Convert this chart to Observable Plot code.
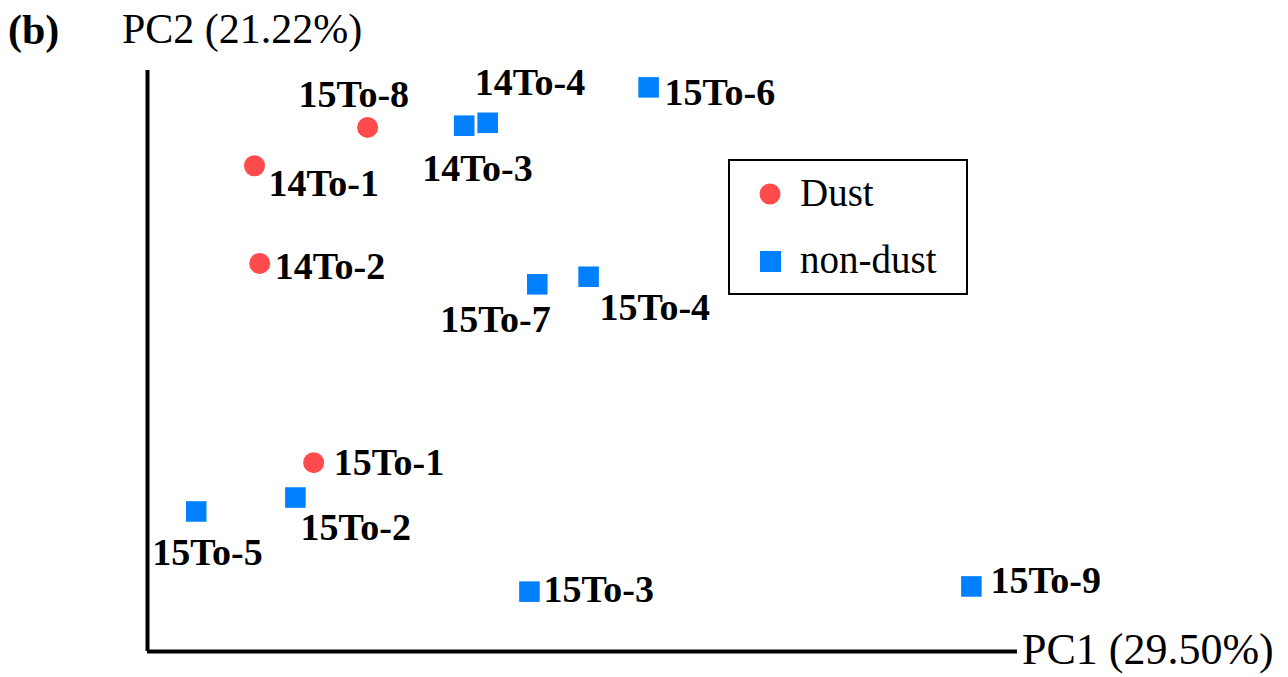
<!DOCTYPE html>
<html>
<head>
<meta charset="utf-8">
<script src="https://cdn.jsdelivr.net/npm/d3@7"></script>
<script src="https://cdn.jsdelivr.net/npm/@observablehq/plot@0.6"></script>
<style>
  body { margin: 0; background: #fff; }
  #wrap { position: relative; width: 1288px; height: 677px; overflow: hidden; font-family: "Liberation Serif", "Times New Roman", serif; }
  #wrap svg.plot { position: absolute; left: 0; top: 0; }
  .lbl { position: absolute; white-space: nowrap; color: #000; line-height: 1; }
  #legend { position: absolute; left: 728px; top: 159px; width: 236px; height: 132px; border: 2.5px solid #000; background: #fff; }
  #legend .row { position: absolute; left: 0; display: flex; align-items: center; font-size: 39px; }
</style>
</head>
<body>
<div id="wrap">
  <div class="lbl" style="left:8px; top:9px; font-size:42px; font-weight:bold;">(b)</div>
  <div class="lbl" style="left:122px; top:8px; font-size:42px;">PC2 (21.22%)</div>
  <div class="lbl" style="left:1022px; top:628px; font-size:44px;">PC1 (29.50%)</div>
  <div id="legend"></div>
</div>
<script>
// Sample names, group, and PCA scores (arbitrary units)
const samples = ["15To-8","14To-1","14To-2","15To-1","14To-3","14To-4","15To-6","15To-7","15To-4","15To-2","15To-5","15To-3","15To-9"];
const groups  = ["Dust","Dust","Dust","Dust","non-dust","non-dust","non-dust","non-dust","non-dust","non-dust","non-dust","non-dust","non-dust"];
const pc1 = [25.3, 12.3, 12.9, 19.1, 36.4, 39.1, 57.6, 44.8, 50.7, 17.0, 5.6, 43.9, 94.7];
const pc2 = [90.2, 83.6, 66.8, 32.5, 90.5, 91.0, 97.1, 63.2, 64.5, 26.5, 24.1, 10.3, 11.2];
const legendLabels = ["Dust", "non-dust"];

// label placement (styling, not data): offset of label's left edge from point
const labelOffset = {
  "15To-8": [-69, -33], "14To-1": [14, 18], "14To-2": [15, 3], "15To-1": [20, 0],
  "14To-3": [-42, 43], "14To-4": [-13, -40], "15To-6": [16, 5], "15To-7": [-97, 36],
  "15To-4": [11, 31], "15To-2": [5, 30], "15To-5": [-44, 41], "15To-3": [14, -2], "15To-9": [19, -6]
};
const colors = {"Dust": "#ff4b4b", "non-dust": "#0080ff"};

const data = samples.map((s, i) => ({name: s, group: groups[i], pc1: pc1[i], pc2: pc2[i]}));

const marks = [
  Plot.ruleX([0], {stroke: "#000", strokeWidth: 4}),
  Plot.ruleY([0], {stroke: "#000", strokeWidth: 4}),
  Plot.dot(data.filter(d => d.group === "Dust"), {x: "pc1", y: "pc2", r: 10.5, fill: colors["Dust"], symbol: "circle"}),
  Plot.dot(data.filter(d => d.group === "non-dust"), {x: "pc1", y: "pc2", r: 11.6, fill: colors["non-dust"], symbol: "square"})
];
for (const d of data) {
  const [dx, dy] = labelOffset[d.name];
  marks.push(Plot.text([d], {x: "pc1", y: "pc2", text: "name", dx, dy, textAnchor: "start", fontSize: 38, fontWeight: "bold", fill: "#000", fontFamily: "Liberation Serif"}));
}

const chart = Plot.plot({
  width: 1288,
  height: 677,
  marginLeft: 147,
  marginRight: 271,
  marginTop: 70,
  marginBottom: 26,
  x: {domain: [0, 100], axis: null},
  y: {domain: [0, 100], axis: null},
  style: {fontFamily: "Liberation Serif", background: "transparent", overflow: "visible"},
  marks
});
chart.classList.add("plot");
document.getElementById("wrap").prepend(chart);

// legend
const legend = document.getElementById("legend");
legendLabels.forEach((g, i) => {
  const row = document.createElement("div");
  row.className = "row";
  row.style.top = (i === 0 ? 9 : 76) + "px";
  const sw = d3.create("svg").attr("width", 70).attr("height", 40);
  if (g === "Dust") sw.append("circle").attr("cx", 40).attr("cy", 21).attr("r", 10.5).attr("fill", colors[g]);
  else sw.append("rect").attr("x", 30).attr("y", 11).attr("width", 21).attr("height", 21).attr("fill", colors[g]);
  row.appendChild(sw.node());
  const t = document.createElement("span");
  t.textContent = g;
  row.appendChild(t);
  legend.appendChild(row);
});
</script>
</body>
</html>
